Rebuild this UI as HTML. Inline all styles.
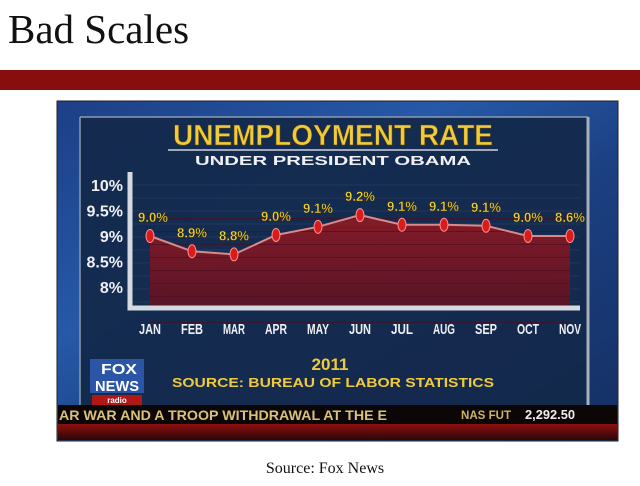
<!DOCTYPE html>
<html><head><meta charset="utf-8"><style>
html,body{margin:0;padding:0;background:#fff;width:640px;height:486px;overflow:hidden}
svg{display:block}
</style></head><body>
<svg id="s" width="640" height="486" viewBox="0 0 640 486" xmlns="http://www.w3.org/2000/svg">
<defs>
<linearGradient id="bg" x1="0" y1="0" x2="1" y2="1">
<stop offset="0" stop-color="#1d3f86"/><stop offset="0.35" stop-color="#2659a8"/><stop offset="0.6" stop-color="#1b3f80"/><stop offset="1" stop-color="#152f63"/></linearGradient>
<linearGradient id="fill" x1="0" y1="0" x2="0" y2="1"><stop offset="0" stop-color="#8e1a24"/><stop offset="1" stop-color="#5e1224"/></linearGradient>
<linearGradient id="tk" x1="0" y1="0" x2="0" y2="1"><stop offset="0" stop-color="#8e1010"/><stop offset="1" stop-color="#2a0505"/></linearGradient>
</defs>
<text x="8" y="43" font-family="Liberation Serif, serif" font-size="41" fill="#111">Bad Scales</text>
<rect x="0" y="70" width="640" height="20" fill="#870d0e"/>
<g>
<rect x="57" y="101" width="561" height="340" fill="url(#bg)" stroke="#222" stroke-width="1"/>
<rect x="80" y="117" width="508" height="290" fill="#14284a" opacity="0.92"/>
<line x1="80" y1="117" x2="80" y2="405" stroke="#8a9ab0" stroke-width="1.5"/>
<line x1="80" y1="117" x2="588" y2="117" stroke="#8a9ab0" stroke-width="1.5"/>
<line x1="588" y1="117" x2="588" y2="405" stroke="#a8b0bc" stroke-width="3"/>
<text x="333" y="145" text-anchor="middle" font-family="Liberation Sans Narrow, Liberation Sans, sans-serif" font-weight="bold" font-size="29" fill="#efcb3c" stroke="#5a4008" stroke-width="0.6" textLength="320" lengthAdjust="spacingAndGlyphs">UNEMPLOYMENT RATE</text>
<line x1="168" y1="150" x2="498" y2="150" stroke="#cfd3dc" stroke-width="1.5"/>
<text x="333" y="165" text-anchor="middle" font-family="Liberation Sans, sans-serif" font-weight="bold" font-size="13" fill="#eef0f4" textLength="276" lengthAdjust="spacingAndGlyphs">UNDER PRESIDENT OBAMA</text>
<g id="plot"></g>
<text x="330" y="370" text-anchor="middle" font-family="Liberation Sans, sans-serif" font-weight="bold" font-size="17" fill="#efcb3c">2011</text>
<text x="333" y="387" text-anchor="middle" font-family="Liberation Sans, sans-serif" font-weight="bold" font-size="13" fill="#efcb3c" textLength="322" lengthAdjust="spacingAndGlyphs">SOURCE: BUREAU OF LABOR STATISTICS</text>
<g>
<rect x="90" y="359" width="54" height="34" fill="#2b56a8"/>
<text x="119" y="374" text-anchor="middle" font-family="Liberation Sans Narrow, Liberation Sans, sans-serif" font-weight="bold" font-size="15" fill="#fff" textLength="36" lengthAdjust="spacingAndGlyphs">FOX</text>
<text x="117" y="391" text-anchor="middle" font-family="Liberation Sans Narrow, Liberation Sans, sans-serif" font-weight="bold" font-size="15" fill="#fff" textLength="44" lengthAdjust="spacingAndGlyphs">NEWS</text>
<rect x="92" y="395" width="50" height="10" fill="#b01818"/>
<text x="117" y="403" text-anchor="middle" font-family="Liberation Sans, sans-serif" font-weight="bold" font-size="8" fill="#fff">radio</text>
</g>
<rect x="58" y="405" width="559" height="19" fill="#0c0606"/>
<rect x="58" y="424" width="559" height="16" fill="url(#tk)"/>
<text x="59" y="420" font-family="Liberation Sans, sans-serif" font-weight="bold" font-size="14" fill="#d8c27a" textLength="328" lengthAdjust="spacingAndGlyphs">AR WAR AND A TROOP WITHDRAWAL AT THE E</text>
<text x="461" y="419" font-family="Liberation Sans Narrow, Liberation Sans, sans-serif" font-weight="bold" font-size="12" fill="#c9b46a" textLength="50" lengthAdjust="spacingAndGlyphs">NAS FUT</text>
<text x="525" y="419" font-family="Liberation Sans Narrow, Liberation Sans, sans-serif" font-weight="bold" font-size="13" fill="#eee" textLength="50" lengthAdjust="spacingAndGlyphs">2,292.50</text>
</g>
<text x="325" y="473" text-anchor="middle" font-family="Liberation Serif, serif" font-size="16" fill="#111">Source: Fox News</text>
</svg>
<script>
const months = ["JAN","FEB","MAR","APR","MAY","JUN","JUL","AUG","SEP","OCT","NOV"];
const plottedValues = [9.0,8.7,8.64,9.02,9.18,9.41,9.22,9.22,9.2,9.0,9.0];
const printedLabels = ["9.0%","8.9%","8.8%","9.0%","9.1%","9.2%","9.1%","9.1%","9.1%","9.0%","8.6%"];
const yTicks = [8,8.5,9,9.5,10];
const yTickLabels = ["8%","8.5%","9%","9.5%","10%"];
const NS="http://www.w3.org/2000/svg";
const g=document.getElementById('plot');
function x(i){return 150+i*(570-150)/(months.length-1);}
function y(v){return 236-(v-9)*51;}
function el(t,a,p){const e=document.createElementNS(NS,t);for(const k in a)e.setAttribute(k,a[k]);(p||g).appendChild(e);return e;}
for(let k=0;k<10;k++){el('line',{x1:132,x2:580,y1:y(10)+k*13,y2:y(10)+k*13,stroke:'#24365a','stroke-width':1});}
let d='M'+x(0)+',305';
plottedValues.forEach((v,i)=>{d+=' L'+x(i)+','+y(v);});
d+=' L'+x(months.length-1)+',305 Z';
const area=el('path',{d:d,fill:'url(#fill)',opacity:0.92});


for(let k=0;k<9;k++){el('line',{x1:x(0),x2:x(months.length-1),y1:y(9.5)+8+k*13,y2:y(9.5)+8+k*13,stroke:'#4a0d1a','stroke-width':1,opacity:0.6});}
const ax=el('path',{d:'M130,172 L130,308 L580,308',fill:'none',stroke:'#d5d9e0','stroke-width':5});


const ln=el('polyline',{points:plottedValues.map((v,i)=>x(i)+','+y(v)).join(' '),fill:'none',stroke:'#d88a8a','stroke-width':2});


yTicks.forEach((t,i)=>{
 const tx=el('text',{x:123,y:y(t)+6,'text-anchor':'end','font-family':'Liberation Sans, sans-serif','font-weight':'bold','font-size':16,fill:'#eef0f4'});
 tx.textContent=yTickLabels[i];
 
 
});
months.forEach((m,i)=>{
 const p=el('ellipse',{cx:x(i),cy:y(plottedValues[i]),rx:4,ry:6.5,fill:'#d81c1c',stroke:'#ff9090','stroke-width':1});
 
 
 const lb=el('text',{x:x(i)+(i==0?3:0),y:y(plottedValues[i])-14,'text-anchor':'middle','font-family':'Liberation Sans Narrow, Liberation Sans, sans-serif','font-weight':'bold','font-size':14,fill:'#eed33c',stroke:'#3a2a00','stroke-width':0.4,textLength:30,lengthAdjust:'spacingAndGlyphs'});
 lb.textContent=printedLabels[i];
 
 
 const mt=el('text',{x:x(i),y:334,'text-anchor':'middle','font-family':'Liberation Sans Narrow, Liberation Sans, sans-serif','font-weight':'bold','font-size':15,fill:'#eef0f4',textLength:22,lengthAdjust:'spacingAndGlyphs'});
 mt.textContent=m;
 
 
});
</script>
</body></html>
